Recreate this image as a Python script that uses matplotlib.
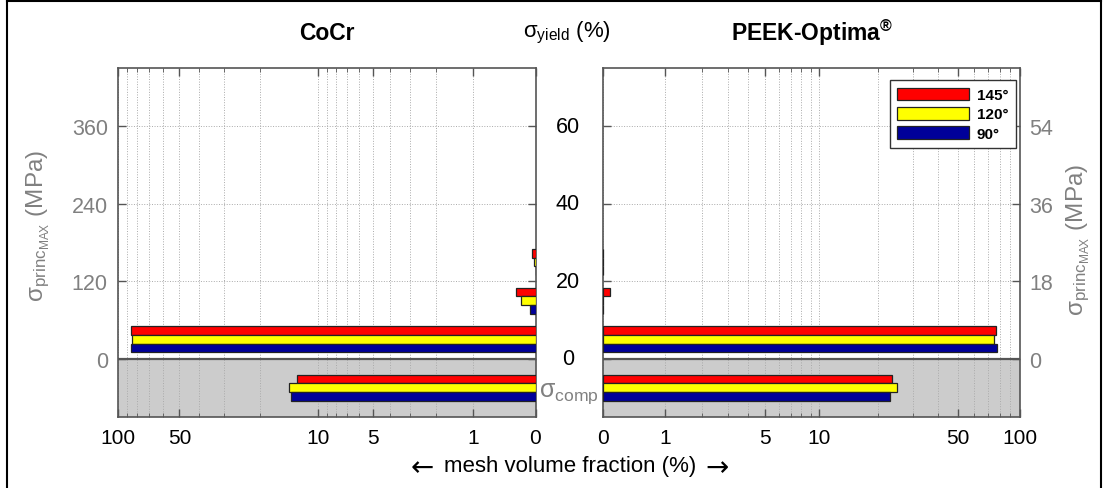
import matplotlib
matplotlib.use("Agg")
import matplotlib.pyplot as plt
import matplotlib.transforms as mtrans
from matplotlib.patches import Patch
from matplotlib.lines import Line2D
import numpy as np

plt.rcParams['font.family'] = ['Liberation Sans', 'DejaVu Sans']
plt.rcParams['mathtext.fontset'] = 'custom'
plt.rcParams['mathtext.rm'] = 'Liberation Sans'
plt.rcParams['mathtext.it'] = 'Liberation Sans:italic'
plt.rcParams['mathtext.bf'] = 'Liberation Sans:bold'

# stress bins, % of yield stress (negative = compression)
bins = [-7.5, 5, 15, 25]
# mesh volume fraction (%) per bin
cocr_145 = [12.9, 86.4, 0.24, 0.035]
cocr_120 = [14.2, 85.4, 0.17, 0.012]
cocr_90 = [13.9, 85.9, 0.06, 0.0]
peek_145 = [23.5, 76.5, 0.09, 0.004]
peek_120 = [25.1, 74.8, 0.004, 0.004]
peek_90 = [23.1, 77.4, 0.004, 0.0]

angles = ["145°", "120°", "90°"]
colors = ["#ff0000", "#ffff00", "#000099"]

yield_ticks = [0, 20, 40, 60]
cocr_mpa = ["0", "120", "240", "360"]
peek_mpa = ["0", "18", "36", "54"]
x_major = [0, 1, 5, 10, 50, 100]
x_minor = [2, 3, 4, 6, 7, 8, 9, 20, 30, 40, 60, 70, 80, 90]

GRAY = "#808080"
SPINE = "#555555"


def fwd(x):
    x = np.asarray(x, dtype=float)
    return np.sign(x) * np.log10(1 + np.abs(x))


def inv(y):
    y = np.asarray(y, dtype=float)
    return np.sign(y) * (10 ** np.abs(y) - 1)


W, H = 1106, 489
fig = plt.figure(figsize=(W / 100, H / 100), dpi=100)
ax_l = fig.add_axes([117.5 / W, (H - 417.7) / H, 418 / W, 348.4 / H])
ax_r = fig.add_axes([602.7 / W, (H - 417.7) / H, 417 / W, 348.4 / H])


def setup(ax, series, mpa_labels, side):
    ax.set_xscale('function', functions=(fwd, inv))
    ax.axhspan(-15, 0, color="#cccccc", zorder=0)
    ax.set_xticks(x_major)
    ax.set_xticklabels([str(v) for v in x_major])
    ax.set_xticks(x_minor, minor=True)
    ax.set_yticks(yield_ticks)
    ax.set_ylim(-15, 75)
    ax.grid(True, which='both', axis='x', ls=':', color='#aaaaaa', lw=0.7)
    ax.grid(True, which='major', axis='y', ls=':', color='#aaaaaa', lw=0.7)
    ax.set_axisbelow(True)
    off = [2.25, 0, -2.25]
    for vals, c, o, lab in zip(series, colors, off, angles):
        ax.barh(np.array(bins) + o, vals, height=2.25, left=0, color=c,
                edgecolor='#222222', linewidth=0.9, label=lab, zorder=3)
    ax.axhline(0, color=SPINE, lw=1.6, zorder=4)
    for s in ax.spines.values():
        s.set_color(SPINE)
        s.set_linewidth(1.2)
    ax.tick_params(which='both', direction='in', top=True, bottom=True,
                   left=True, right=True, color=SPINE)
    ax.tick_params(which='major', length=6, width=1)
    ax.tick_params(which='minor', length=3, width=0.6)
    ax.tick_params(axis='x', labelsize=15, pad=8, labelcolor='black')
    ax.set_yticklabels(mpa_labels)
    if side == 'left':
        ax.tick_params(axis='y', labelleft=True, labelright=False,
                       labelsize=15.5, labelcolor=GRAY, pad=7)
    else:
        ax.tick_params(axis='y', labelleft=False, labelright=True,
                       labelsize=15.5, labelcolor=GRAY, pad=7)


setup(ax_l, [cocr_145, cocr_120, cocr_90], cocr_mpa, 'left')
ax_l.set_xlim(100, 0)
setup(ax_r, [peek_145, peek_120, peek_90], peek_mpa, 'right')
ax_r.set_xlim(0, 100)

# centre yield-% labels
tr = mtrans.blended_transform_factory(fig.transFigure, ax_l.transData)
for v in yield_ticks:
    fig.text(568 / W, v, str(v), transform=tr, ha='center', va='center',
             fontsize=15.5, color='black')
fig.text(569 / W, -8.8, r'$\mathrm{σ}_{\mathrm{comp}}$', transform=tr,
         ha='center', va='center', fontsize=18, color=GRAY)

# titles
fig.text(327 / W, 1 - 33 / H, "CoCr", ha='center', va='center',
         fontsize=16.5, fontweight='bold')
fig.text(567 / W, 1 - 33 / H, r'$\mathrm{σ}_{\mathrm{yield}}$ (%)',
         ha='center', va='center', fontsize=16)
fig.text(812 / W, 1 - 33 / H, r"PEEK-Optima$^{\mathbf{®}}$", ha='center',
         va='center', fontsize=16.5, fontweight='bold')

# y labels
ylab = r'$\mathrm{σ}_{\mathrm{princ}_{\mathrm{MAX}}}$ (MPa)'
fig.text(38 / W, 1 - 226 / H, ylab, rotation=90, ha='center', va='center',
         fontsize=17.5, color=GRAY)
fig.text(1078 / W, 1 - 240 / H, ylab, rotation=90, ha='center', va='center',
         fontsize=17.5, color=GRAY)

# x label
fig.text(570 / W, 1 - 467 / H, "mesh volume fraction (%)",
         ha='center', va='center', fontsize=16)
fig.text(422 / W, 1 - 468 / H, "←", family='DejaVu Sans',
         ha='center', va='center', fontsize=20)
fig.text(717 / W, 1 - 468 / H, "→", family='DejaVu Sans',
         ha='center', va='center', fontsize=20)

# legend
handles = [Patch(facecolor=c, edgecolor='#222222', lw=0.9) for c in colors]
leg = fig.legend(handles, angles, loc='upper right',
                 bbox_to_anchor=(1016 / W, 1 - 81 / H),
                 bbox_transform=fig.transFigure, borderaxespad=0,
                 fancybox=False, edgecolor='#333333', framealpha=1,
                 handlelength=4.7, handleheight=0.9, labelspacing=0.3,
                 handletextpad=0.5,
                 prop={'weight': 'bold', 'size': 11}, borderpad=0.5)
leg.get_frame().set_linewidth(1.0)

# outer frame
for xs, ys in [([7, 7], [0, H]), ([7, 1101], [2, 2]), ([1101, 1101], [0, H])]:
    fig.add_artist(Line2D([x / W for x in xs], [1 - y / H for y in ys],
                          color='black', lw=1.5, transform=fig.transFigure))

fig.savefig("out.png", dpi=100)
